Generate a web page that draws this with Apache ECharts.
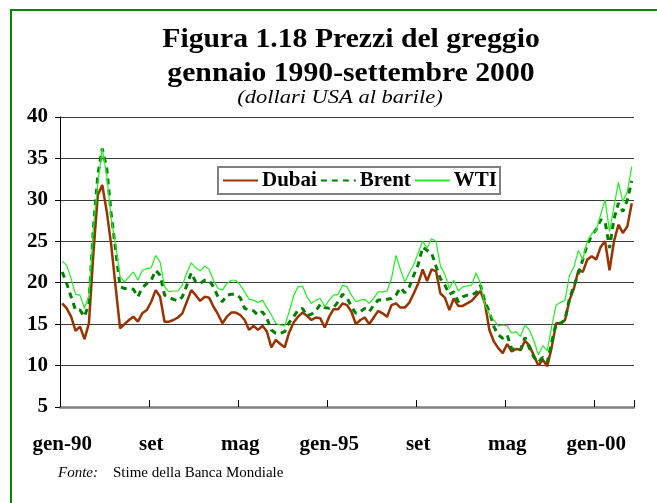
<!DOCTYPE html>
<html>
<head>
<meta charset="utf-8">
<script src="https://cdn.jsdelivr.net/npm/echarts@6/dist/echarts.min.js"></script>
<style>
html,body{margin:0;padding:0;background:#fff;}
#c{width:657px;height:503px;}
</style>
</head>
<body>
<div id="c"></div>
<script>
// ---- data (monthly, gen-1990 .. set-2000, dollari USA al barile) ----
const monthNames = ['gen','feb','mar','apr','mag','giu','lug','ago','set','ott','nov','dic'];
const startYear = 1990;
const nMonths = 129;
const categories = [];
for (let i = 0; i < nMonths; i++) {
  const y = startYear + Math.floor(i / 12);
  categories.push(monthNames[i % 12] + '-' + String(y % 100).padStart(2, '0'));
}
const xTickLabels = ['gen-90', 'set', 'mag', 'gen-95', 'set', 'mag', 'gen-00'];

const dubai = [
  17.5, 16.9, 15.9, 14.2, 14.7, 13.2, 15.1, 23.5, 30.6, 31.8,
  28.6, 24.6, 19.5, 14.5, 15.0, 15.5, 15.9, 15.3, 16.3, 16.7,
  17.7, 19.1, 18.3, 15.3, 15.3, 15.5, 15.8, 16.3, 17.7, 19.1,
  18.5, 17.8, 18.3, 18.2, 17.1, 16.2, 15.1, 15.9, 16.4, 16.4,
  16.1, 15.5, 14.3, 14.8, 14.3, 14.8, 14.1, 12.2, 13.1, 12.6,
  12.2, 14.0, 15.2, 15.9, 16.4, 16.0, 15.5, 15.8, 15.7, 14.6,
  15.9, 16.8, 16.8, 17.5, 17.3, 16.5, 15.0, 15.5, 15.8, 15.0,
  15.8, 16.6, 16.3, 15.9, 17.3, 17.5, 17.0, 17.0, 17.6, 18.7,
  19.9, 21.6, 20.2, 21.6, 21.4, 18.7, 18.2, 16.7, 18.1, 17.2,
  17.2, 17.5, 17.8, 18.4, 19.0, 17.5, 14.3, 12.9, 12.1, 11.5,
  12.6, 11.7, 12.0, 11.9, 13.0, 12.4, 11.2, 10.0, 10.7, 9.9,
  12.2, 15.1, 15.1, 15.5, 17.9, 19.3, 21.5, 21.3, 22.8, 23.2,
  22.8, 24.3, 25.0, 21.5, 25.0, 27.0, 26.0, 26.8, 29.6
];
const brent = [
  21.3, 19.9, 18.3, 16.7, 16.7, 15.9, 17.5, 26.5, 33.0, 36.2,
  33.8, 28.3, 24.0, 19.5, 19.3, 19.3, 19.2, 18.3, 19.4, 19.9,
  20.3, 21.5, 20.9, 18.5, 18.2, 18.0, 17.8, 18.3, 19.7, 21.2,
  20.1, 19.9, 20.3, 20.3, 19.5, 18.3, 17.7, 18.5, 18.6, 18.6,
  18.2, 16.9, 16.7, 16.6, 16.1, 16.5, 15.7, 14.3, 13.9, 13.9,
  14.1, 15.2, 15.9, 16.7, 16.9, 16.0, 16.2, 16.6, 17.4, 17.0,
  16.9, 17.0, 17.7, 18.6, 18.2, 17.1, 16.3, 16.5, 16.9, 16.5,
  17.3, 17.9, 17.9, 18.0, 18.1, 18.5, 19.4, 18.8, 19.5, 20.9,
  22.2, 24.3, 23.9, 23.6, 22.0, 20.5, 19.7, 18.6, 18.9, 17.7,
  18.3, 18.5, 18.5, 18.8, 19.7, 17.7, 16.5, 14.7, 13.7, 13.3,
  13.7, 12.0, 12.0, 11.9, 13.4, 12.1, 11.0, 10.4, 11.0, 10.4,
  12.8, 15.1, 15.1, 15.5, 18.1, 19.6, 21.1, 22.8, 24.6, 25.7,
  26.4, 27.6, 27.4, 24.2, 27.7, 29.6, 28.6, 30.0, 32.3
];
const wti = [
  22.6, 22.1, 20.5, 18.6, 18.5, 16.9, 18.5, 26.5, 32.0, 36.2,
  33.0, 27.8, 24.6, 20.7, 20.1, 20.7, 21.3, 20.3, 21.5, 21.7,
  21.8, 23.3, 22.5, 19.5, 18.9, 19.0, 19.0, 19.7, 21.2, 22.4,
  21.8, 21.4, 22.0, 21.6, 20.3, 19.3, 19.1, 19.9, 20.3, 20.3,
  19.7, 18.9, 18.0, 17.9, 17.6, 17.9, 17.0, 16.1, 15.1, 14.9,
  14.8, 16.5, 18.4, 19.5, 19.6, 18.3, 17.5, 17.9, 18.1, 17.1,
  17.9, 18.5, 18.6, 19.7, 19.5, 18.5, 17.7, 17.9, 18.0, 17.5,
  18.1, 18.9, 18.9, 19.0, 20.5, 23.3, 21.6, 20.1, 21.2, 22.2,
  23.6, 25.0, 24.2, 25.3, 25.0, 22.0, 21.0, 19.3, 20.3, 19.0,
  19.5, 19.6, 19.7, 21.2, 19.9, 17.3, 16.2, 15.5, 14.8, 14.9,
  14.8, 13.9, 14.1, 13.5, 14.9, 14.3, 13.0, 11.3, 12.4, 11.8,
  14.7, 17.3, 17.6, 17.9, 20.9, 21.9, 23.9, 22.8, 25.0, 25.9,
  26.3, 28.2, 30.0, 26.2, 29.2, 32.1, 29.8, 31.0, 34.0
];

const SERIF = "'Liberation Serif', 'Times New Roman', serif";
const chart = echarts.init(document.getElementById('c'), null, {renderer: 'canvas'});
chart.setOption({
  animation: false,
  backgroundColor: '#ffffff',
  legend: {
    left: 218, top: 167,
    padding: [3, 3, 3, 4],
    itemGap: 3,
    itemWidth: 35, itemHeight: 14,
    borderColor: '#808080', borderWidth: 2,
    backgroundColor: '#fff',
    itemStyle: {opacity: 0},
    textStyle: {fontFamily: SERIF, fontWeight: 'bold', fontSize: 21, color: '#000', padding: [0,0,0,-1]},
    data: ['Dubai', 'Brent', 'WTI']
  },
  grid: {left: 60, right: 23, top: 117, bottom: 96, containLabel: false},
  xAxis: {
    type: 'category',
    data: categories,
    boundaryGap: true,
    axisLine: {lineStyle: {color: '#808080', width: 2.5}},
    axisTick: {show: true, inside: true, length: 7, interval: 19, lineStyle: {color: '#000', width: 1}},
    axisLabel: {
      interval: 19, margin: 27,
      fontFamily: SERIF, fontWeight: 'bold', fontSize: 21, color: '#000',
      formatter: function (v, idx) { return xTickLabels[Math.round(idx / 20)] || ''; }
    },
    splitLine: {show: false}
  },
  yAxis: {
    type: 'value',
    min: 5, max: 40, interval: 5,
    axisLine: {show: true, lineStyle: {color: '#000', width: 1}},
    axisTick: {show: true, length: 5, lineStyle: {color: '#000'}},
    axisLabel: {margin: 12, fontFamily: SERIF, fontWeight: 'bold', fontSize: 21, color: '#000'},
    splitLine: {show: true, lineStyle: {color: '#3a3a3a', width: 1}}
  },
  graphic: [
    {type: 'line', shape: {x1: 11, y1: 9, x2: 11, y2: 503}, style: {stroke: '#008a00', lineWidth: 2}},
    {type: 'line', shape: {x1: 10, y1: 10, x2: 657, y2: 10}, style: {stroke: '#008a00', lineWidth: 2}},
    {type: 'text', x: 351, y: 27, scaleX: 1.1,
     style: {text: 'Figura 1.18 Prezzi del greggio', textAlign: 'center', textVerticalAlign: 'top',
             fontFamily: SERIF, fontWeight: 'bold', fontSize: 27, fill: '#000'}},
    {type: 'text', x: 351, y: 61, scaleX: 1.1,
     style: {text: 'gennaio 1990-settembre 2000', textAlign: 'center', textVerticalAlign: 'top',
             fontFamily: SERIF, fontWeight: 'bold', fontSize: 27, fill: '#000'}},
    {type: 'text', x: 340, y: 89, scaleX: 1.25,
     style: {text: '(dollari USA al barile)', textAlign: 'center', textVerticalAlign: 'top',
             fontFamily: SERIF, fontStyle: 'italic', fontSize: 18, fill: '#000'}},
    {type: 'text', left: 58, top: 466, style: {text: 'Fonte:', fontFamily: SERIF, fontStyle: 'italic', fontSize: 15, fill: '#000'}},
    {type: 'text', left: 113, top: 466, style: {text: 'Stime della Banca Mondiale', fontFamily: SERIF, fontSize: 15, fill: '#000'}}
  ],
  series: [
    {name: 'Dubai', type: 'line', data: dubai, symbol: 'none', showSymbol: false,
     itemStyle: {color: '#993300'}, lineStyle: {color: '#993300', width: 2.5}},
    {name: 'Brent', type: 'line', data: brent, symbol: 'none', showSymbol: false,
     itemStyle: {color: '#008000'}, lineStyle: {color: '#008000', width: 3, type: [6, 5]}},
    {name: 'WTI', type: 'line', data: wti, symbol: 'none', showSymbol: false,
     itemStyle: {color: '#22ee22'}, lineStyle: {color: '#22ee22', width: 1.2}}
  ]
});
</script>
</body>
</html>
